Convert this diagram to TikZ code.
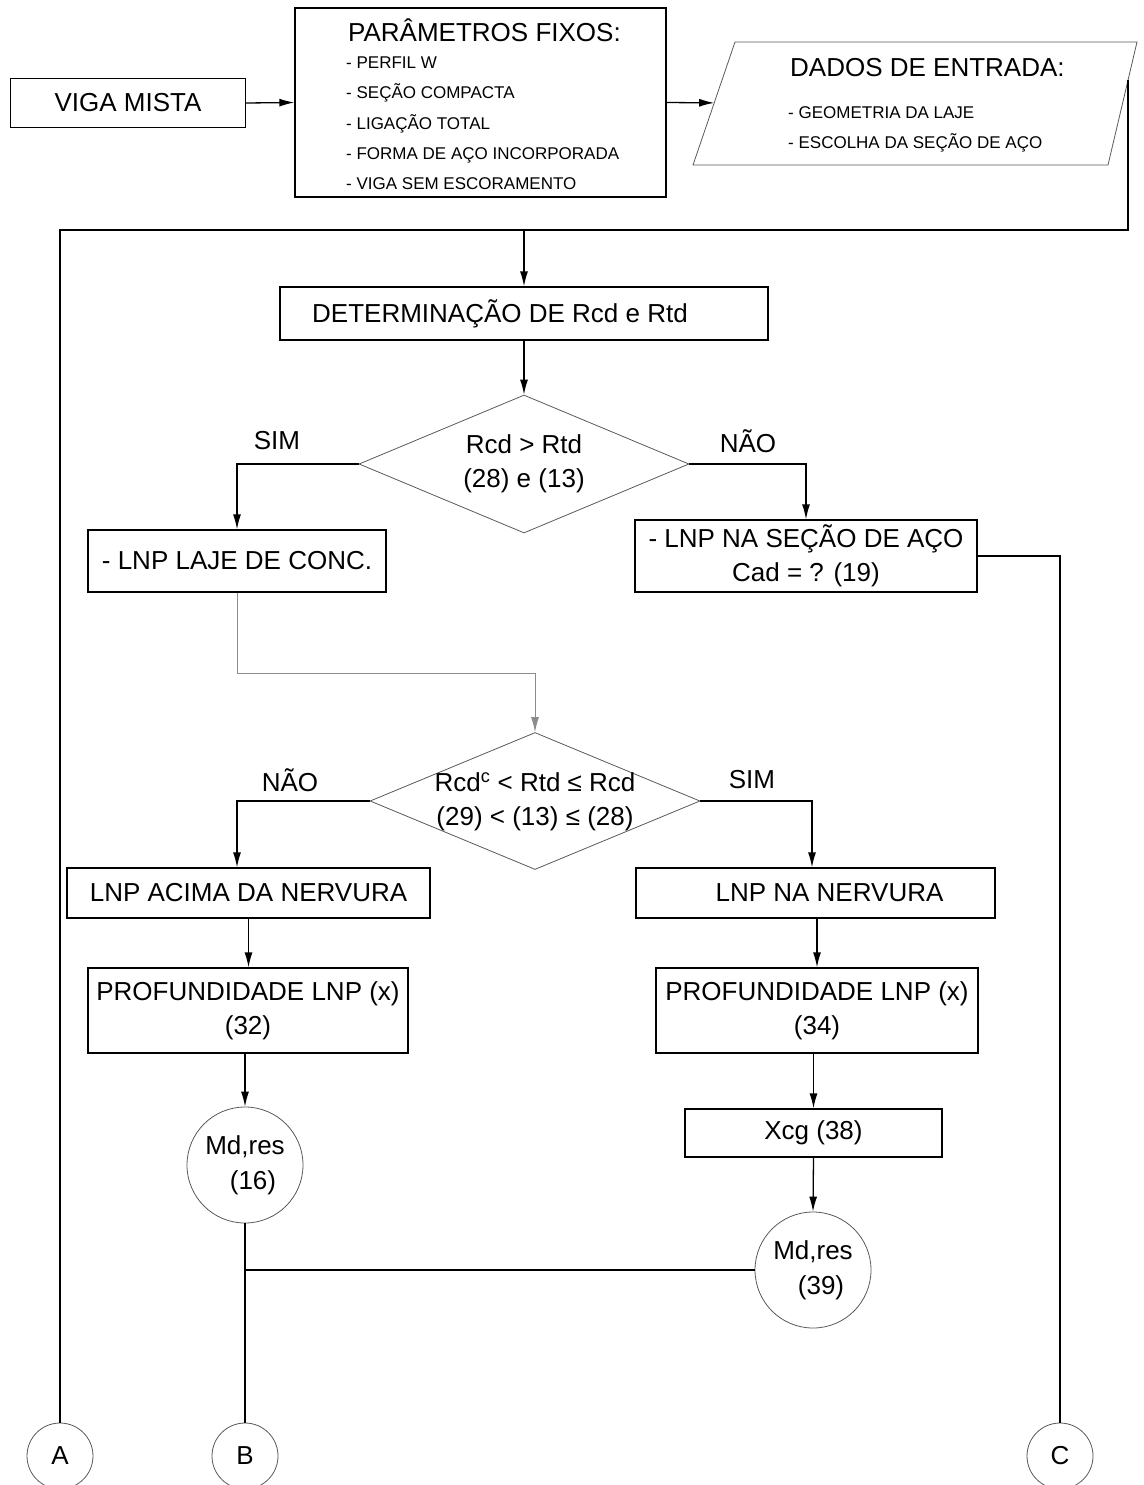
\documentclass[tikz,border=0pt]{standalone}
\usepackage{fontspec}
\setmainfont{Liberation Sans}
\usetikzlibrary{arrows.meta,shapes.geometric,calc}
\begin{document}
\begin{tikzpicture}[x=1pt,y=-1pt,
  box/.style={draw=black,line width=1.3pt,rectangle,inner sep=0pt,font=\fontsize{26}{34}\selectfont,align=center},
  dia/.style={draw=black!65,line width=0.8pt,diamond,inner sep=0pt},
  circ/.style={draw=black!65,line width=0.8pt,circle,inner sep=0pt,font=\fontsize{26}{35}\selectfont,align=center},
  txt/.style={font=\fontsize{26}{34}\selectfont,align=center,inner sep=0pt},
  small/.style={font=\fontsize{17}{20}\selectfont,inner sep=0pt,anchor=base west},
  title/.style={font=\fontsize{26}{30}\selectfont,inner sep=0pt,anchor=base west},
  ln/.style={line width=1.3pt},
  arr/.style={line width=1.3pt,-{Latex[length=15pt,width=8pt]}},
  grayarr/.style={draw=black!45,line width=1pt,-{Latex[length=15pt,width=8pt]}},
]
\useasboundingbox (0,0) rectangle (1143,1485);

% top row
\node[box,minimum width=235pt,minimum height=49pt] (viga) at (128,103) {VIGA MISTA};
\node[box,minimum width=371pt,minimum height=189pt] (param) at (480.5,102.5) {};
\node[title] (pt) at (348,42) {PARÂMETROS FIXOS:};
\node[small] (p1) at (346,69) {- PERFIL W};
\node[small] (p2) at (346,99) {- SEÇÃO COMPACTA};
\node[small] (p3) at (346,130) {- LIGAÇÃO TOTAL};
\node[small] (p4) at (346,160) {- FORMA DE AÇO INCORPORADA};
\node[small] (p5) at (346,189) {- VIGA SEM ESCORAMENTO};

\coordinate (parTL) at (735,42);
\coordinate (parTR) at (1137,42);
\coordinate (parBR) at (1108,165);
\coordinate (parBL) at (693,165);
\draw[line width=0.8pt,draw=black!65] (parTL) -- (parTR) -- (parBR) -- (parBL) -- cycle;
\coordinate (parL) at ($(parTL)!0.495!(parBL)$);
\coordinate (parR) at ($(parTR)!0.31!(parBR)$);
\node[title] (dt) at (790,77) {DADOS DE ENTRADA:};
\node[small] (d1l) at (788,119) {- GEOMETRIA DA LAJE};
\node[small] (d2l) at (788,149) {- ESCOLHA DA SEÇÃO DE AÇO};

\draw[arr] (viga.east) -- (param.west);
\draw[arr] (param.east) -- (parL);

% distribution line
\coordinate (turnR) at (parR |- 0,230);
\coordinate (turnL) at (60,230);
\coordinate (split) at (524,230);

\node[circ,minimum size=66pt] (A) at (60,1456) {A};
\node[circ,minimum size=66pt] (B) at (245,1456) {B};
\node[circ,minimum size=66pt] (C) at (1060,1456) {C};

\draw[ln] (parR) -- (turnR) -- (turnL) -- (A.north);

\node[box,minimum width=488pt,minimum height=53pt] (det) at (524,313.5) {DETERMINAÇÃO DE Rcd e Rtd\hspace*{48pt}};
\draw[arr] (split) -- (det.north);

% decision 1
\node[dia,minimum width=330pt,minimum height=138pt] (d1) at (524,464) {};
\node[txt] (d1t) at (d1.center) {Rcd > Rtd\\(28) e (13)};
\draw[arr] (det.south) -- (d1.north);
\node[txt] (sim1) at (277,441) {SIM};
\node[txt] (nao1) at (748,441) {NÃO};

\node[box,minimum width=298pt,minimum height=62pt] (laje) at (237,561) {- LNP LAJE DE CONC.};
\node[box,minimum width=342pt,minimum height=72pt] (sec) at (806,556) {- LNP NA SEÇÃO DE AÇO\\Cad = ? (19)};
\draw[arr] (d1.west) -| (laje.north);
\draw[arr] (d1.east) -| (sec.north);

\coordinate (cR) at (1060,556);
\draw[ln] (sec.east) -- (cR) -- (C.north);

% decision 2
\node[dia,minimum width=330pt,minimum height=137pt] (d2) at (535,801) {};
\node[txt] (d2t) at ($(d2.center)+(0,1)$) {Rcd\textsuperscript{c} < Rtd ≤ Rcd\\(29) < (13) ≤ (28)};
\coordinate (gl) at (237,673);
\draw[grayarr] (laje.south) -- (gl) -| (d2.north);
\node[txt] (nao2) at (290,780) {NÃO};
\node[txt] (sim2) at (752,780) {SIM};

\node[box,minimum width=363pt,minimum height=50pt] (acima) at (248.5,893) {LNP ACIMA DA NERVURA};
\node[box,minimum width=359pt,minimum height=50pt] (nerv) at (815.5,893) {\hspace*{28pt}LNP NA NERVURA};
\coordinate (d2L) at (237,801);
\coordinate (d2R) at (812,801);
\draw[arr] (d2.west) -- (d2L) -- (d2L |- acima.north);
\draw[arr] (d2.east) -- (d2R) -- (d2R |- nerv.north);

\node[box,minimum width=320pt,minimum height=85pt] (prof32) at (248,1010.5) {PROFUNDIDADE LNP (x)\\(32)};
\node[box,minimum width=322pt,minimum height=85pt] (prof34) at (817,1010.5) {PROFUNDIDADE LNP (x)\\(34)};
\draw[arr] (acima.south) -- (acima.south |- prof32.north);
\draw[arr] (prof34.north |- nerv.south) -- (prof34.north);

\node[circ,minimum size=116pt] (md16) at (245,1165) {Md,res\\\hspace*{16pt}(16)};
\node[box,minimum width=257pt,minimum height=48pt] (xcg) at (813.5,1133) {Xcg (38)};
\node[circ,minimum size=116pt] (md39) at (813,1270) {Md,res\\\hspace*{16pt}(39)};

\draw[arr] (md16.north |- prof32.south) -- (md16.north);
\draw[arr] (xcg.north |- prof34.south) -- (xcg.north);
\draw[arr] (xcg.south) -- (md39.north);

\coordinate (join) at (245,1270);
\draw[ln] (md16.south) -- (B.north);
\draw[ln] (join) -- (md39.west);
\end{tikzpicture}
\end{document}
